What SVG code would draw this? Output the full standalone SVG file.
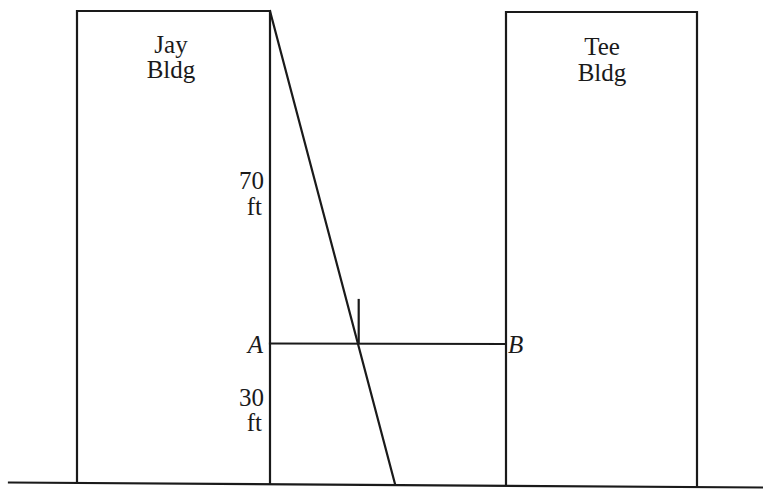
<svg xmlns="http://www.w3.org/2000/svg" width="763" height="495" viewBox="0 0 763 495">
<style>
.ln{stroke:#1a1a1a;stroke-width:2.2;fill:none;stroke-linecap:square}
.t{font-family:"Liberation Serif","Times New Roman",serif;font-size:25px;fill:#1a1a1a}
.c{text-anchor:middle}
.r{text-anchor:end}
.i{font-style:italic}
</style>
<rect width="763" height="495" fill="#ffffff"/>
<g id="ground">
<line class="ln" x1="9" y1="482.5" x2="763" y2="487.5"/>
</g>
<g id="jay">
<polyline class="ln" points="77,483 77,11 270,11 270,484"/>
<text class="t c" x="171" y="53">Jay</text>
<text class="t c" x="171" y="78">Bldg</text>
</g>
<g id="tee">
<polyline class="ln" points="506,485 506,12 697,12 697,487"/>
<text class="t c" x="602" y="55">Tee</text>
<text class="t c" x="602" y="81">Bldg</text>
</g>
<g id="connectors">
<line class="ln" x1="270" y1="11" x2="395" y2="484"/>
<line class="ln" x1="270" y1="343.5" x2="505" y2="344"/>
<line class="ln" x1="358.7" y1="300" x2="358.7" y2="343"/>
</g>
<g id="labels">
<text class="t r" x="264" y="189">70</text>
<text class="t r" x="262" y="215">ft</text>
<text class="t r" x="264" y="406">30</text>
<text class="t r" x="262" y="431">ft</text>
<text class="t i r" x="263" y="353">A</text>
<text class="t i" x="508" y="353">B</text>
</g>
</svg>
